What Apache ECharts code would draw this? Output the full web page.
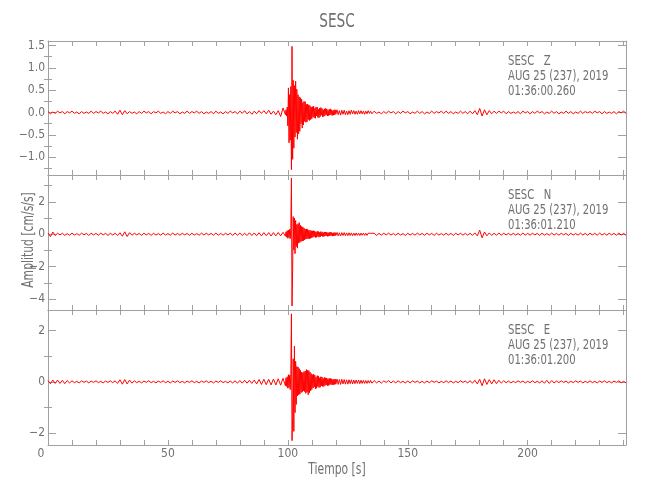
<!DOCTYPE html>
<html>
<head>
<meta charset="utf-8">
<script src="https://cdn.jsdelivr.net/npm/echarts@6/dist/echarts.min.js"></script>
<style>html,body{margin:0;padding:0;background:#fff}#c{width:650px;height:500px}</style>
</head>
<body>
<div id="c"></div>
<script>
// ---------------- data ----------------
const chartTitle = 'SESC';
const xName = 'Tiempo [s]';
const yName = 'Amplitud [cm/s/s]';
const channelLabels = ['SESC   Z', 'SESC   N', 'SESC   E'];
const dateLabel = 'AUG 25 (237), 2019';
const startLabels = ['01:36:00.260', '01:36:01.210', '01:36:01.200'];

// sample grid segments: [start s, step s, count]
const sampling = [[0, 1, 100], [99.25, 0.25, 84], [120.5, 0.5, 30], [136, 1, 106]];
const valueUnit = 0.01; // values below are in 0.01 cm/s/s

// Z component
const zPre = [2,-3,1,-2,3,-1,2,-3,2,-1, 3,-2,1,-3,2,-2,1,-2,3,-2, 2,-1,3,-2,1,-3,2,-2,3,-4,
  5,-5,4,-3,2,-2,1,-3,2,-2, 3,-1,2,-3,2,-1,3,-2,1,-3, 2,-2,3,-1,2,-3,1,-2,3,-2,
  2,-1,3,-2,2,-3,1,-2,2,-3, 3,-2,1,-3,2,-2,3,-1,2,-3, 3,-2,4,-3,2,-4,3,-3,4,-2,
  4,-3,5,-4,3,-5,4,-9,10,-5];
const zEvent = [6,-8,12,-30, 55,-68,40,-62, 58,-128,148,-105, 72,-80,60,-55, 70,-45,52,-60,
  40,-48,35,-42, 33,-25,30,-35, 22,-28,25,-20, 24,-22,18,-21, 19,-16,17,-18, 15,-16,12,-14,
  13,-10,14,-12, 9,-13,12,-8, 12,-11,7,-12, 10,-9,11,-6, 9,-10,6,-9,
  8,-7,9,-5, 8,-8,5,-7, 7,-6,8,-5, 6,-7,4,-6, 6,-5,6,-4];
const zCoda = [6,-5,4,-6,5,-4,5,-5,3,-5, 4,-4,5,-3,4,-4,3,-4,4,-3, 4,-3,3,-4,3,-3,4,-2,3,-3];
const zPost = [3,-2,1,-3,2,-2,3,-1,2,-3, 2,-2,3,-1,2,-3,1,-2,3,-2, 2,-3,1,-2,3,-2,2,-1,3,-2,
  3,-2,2,-3,1,-2,3,-2,2,-3, 3,-3,4,-5,9,-8,6,-5,4,-3, 3,-2,3,-1,3,-3,2,-2,1,-2,
  2,-3,3,-1,2,-3,2,-2,3,-1, 2,-3,1,-2,3,-2,2,-3,1,-2, 3,-2,2,-3,1,-2,3,-2,2,-1,
  2,-2,3,-1,2,-3,2,-2,1,-2, 2,-3,2,-1,3,-2];

// N component
const nPre = [8,-15,14,-8,6,-4,6,-7,4,-6, 7,-5,4,-6,7,-4,5,-7,6,-4, 5,-6,7,-4,5,-7,6,-5,6,-8,
  9,-12,15,-14,10,-6,6,-4,5,-7, 6,-4,5,-7,6,-5,4,-6,7,-5, 4,-6,7,-5,5,-6,6,-4,5,-7,
  6,-5,4,-6,7,-5,6,-4,5,-6, 7,-6,5,-6,6,-4,6,-7,7,-6, 7,-7,6,-8,9,-8,8,-9,9,-10,
  10,-9,10,-11,10,-10,11,-10,12,-12];
const nEvent = [15,-18,22,-25, 25,-20,30,-28, 40,346,-443,-220, 109,-97,100,-120, 85,-77,60,-86,
  65,-55,72,-50, 55,-45,48,-42, 45,-40,38,-35, 32,-30,33,-28, 30,-27,25,-28, 24,-25,22,-22,
  21,-18,22,-15, 19,-20,14,-19, 18,-13,17,-18, 12,-17,16,-11, 15,-14,10,-15,
  14,-11,14,-10, 13,-13,9,-12, 12,-10,12,-8, 11,-12,8,-11, 11,-9,10,-8];
const nCoda = [11,-10,9,-11,10,-8,10,-9,8,-9, 9,-8,8,-9,7,-8,8,-7,7,-8, 7,-6,7,-7,6,-7,6,-5,6,-6];
const nPost = [6,-7,5,-5,6,-4,7,-5,4,-6, 6,-5,4,-7,6,-5,5,-6,7,-4, 5,-6,6,-4,5,-7,6,-5,4,-6,
  6,-5,5,-7,6,-4,6,-6,5,-6, 6,-7,8,-10,25,-22,14,-10,8,-7, 6,-6,7,-5,6,-4,5,-6,6,-5,
  4,-6,7,-5,5,-6,6,-4,5,-7, 6,-5,4,-6,7,-5,5,-6,6,-4, 5,-7,6,-5,4,-6,7,-5,5,-6,
  6,-4,5,-6,7,-5,5,-6,6,-4, 5,-6,7,-5,5,-6];

// E component
const ePre = [5,-7,7,-6,7,-6,6,-7,5,-4, 4,-3,2,-4,4,-2,3,-4,3,-2, 4,-3,2,-4,3,-2,4,-3,4,-6,
  8,-9,9,-8,7,-5,4,-3,2,-4, 3,-2,4,-3,2,-4,3,-2,4,-3, 2,-4,3,-2,4,-3,2,-4,3,-2,
  4,-3,2,-4,3,-2,4,-3,2,-4, 3,-2,4,-3,2,-4,3,-4,4,-5, 5,-5,6,-5,6,-6,7,-8,9,-10,
  10,-11,10,-12,11,-12,12,-13,14,-15];
const eEvent = [16,-18,20,-25, 28,-22,26,-30, 35,265,-229,-140, 90,-193,139,-120, 80,-88,60,-55,
  58,-50,52,-48, 45,-42,38,-40, 36,-35,40,-38, 42,-45,48,-40, 45,-50,44,-42, 38,-35,32,-30,
  28,-24,30,-20, 26,-27,18,-25, 24,-18,23,-22, 16,-21,20,-15, 19,-18,13,-18,
  17,-14,16,-12, 15,-15,11,-14, 14,-11,13,-10, 12,-12,9,-11, 11,-10,11,-9];
const eCoda = [11,-10,9,-10,10,-8,9,-9,8,-9, 8,-7,8,-8,7,-7,7,-6,7,-7, 6,-6,6,-6,5,-6,5,-5,6,-5];
const ePost = [5,-4,3,-5,4,-2,5,-4,3,-4, 4,-3,2,-4,3,-4,4,-2,3,-4, 2,-4,3,-3,4,-2,3,-4,2,-3,
  4,-3,3,-4,2,-3,4,-2,3,-4, 4,-5,6,-8,10,-15,12,-10,9,-8, 8,-7,6,-5,4,-3,3,-4,2,-3,
  4,-2,3,-4,2,-3,4,-3,2,-4, 4,-5,6,-6,5,-4,3,-3,4,-2, 3,-4,2,-3,4,-2,3,-4,2,-3,
  4,-3,2,-4,3,-2,4,-3,2,-4, 3,-2,4,-3,2,-4];

// axis extents and ticks per panel
const xRange = [0, 241];
const yRanges = [[-1.4, 1.6], [-4.68, 3.66], [-2.46, 2.8]];
const yMajor = [[-1, -0.5, 0, 0.5, 1, 1.5], [-4, -2, 0, 2], [-2, 0, 2]];
const yMinor = [[-1.25, -0.75, -0.25, 0.25, 0.75, 1.25], [-3, -1, 1, 3], [-1, 1]];
const yDecimals = [1, 0, 0];

// ---------------- build ----------------
const times = [];
sampling.forEach(([s, d, n]) => { for (let i = 0; i < n; i++) times.push(s + i * d); });
const traces = [zPre.concat(zEvent, zCoda, zPost), nPre.concat(nEvent, nCoda, nPost), ePre.concat(eEvent, eCoda, ePost)];

const FONT = "'Liberation Sans Narrow', 'DejaVu Sans Condensed', 'DejaVu Sans', sans-serif";
const AXC = '#a0a0a0';
const TXC = '#707070';
const panels = [{top: 41, height: 134}, {top: 175, height: 135}, {top: 310, height: 135}];
const NARROW = 0.8;

const grid = [], xAxis = [], yAxis = [], series = [], graphic = [];
panels.forEach((p, k) => {
  grid.push({left: 48, right: 24, top: p.top, height: p.height, containLabel: false});
  ['bottom', 'top'].forEach(pos => {
    xAxis.push({
      type: 'value', gridIndex: k, position: pos, min: xRange[0], max: xRange[1], interval: 10,
      axisLine: {show: true, onZero: false, lineStyle: {color: AXC, width: 1}},
      axisTick: {show: true, inside: true, length: 5, lineStyle: {color: AXC}},
      splitLine: {show: false},
      axisLabel: {
        show: pos === 'bottom' && k === 2, interval: 4, margin: 3, color: TXC, fontFamily: FONT, fontSize: 12,
        showMaxLabel: false,
        formatter: v => (v % 50 === 0 ? (v === 0 ? '{z|0}' : String(v)) : ''),
        rich: {z: {padding: [0, 14, 0, 0], color: TXC, fontFamily: FONT, fontSize: 12}}
      }
    });
  });
  const dec = yDecimals[k];
  ['left', 'right'].forEach(pos => {
    yAxis.push({
      type: 'value', gridIndex: k, position: pos, min: yRanges[k][0], max: yRanges[k][1],
      axisLine: {show: true, onZero: false, lineStyle: {color: AXC, width: 1}},
      axisTick: {show: true, inside: true, length: 8, customValues: yMajor[k], lineStyle: {color: AXC}},
      splitLine: {show: false},
      axisLabel: {
        show: pos === 'left', customValues: yMajor[k], margin: 3, color: TXC, fontFamily: FONT, fontSize: 12,
        formatter: v => (v < 0 ? '\u2212' : '') + Math.abs(v).toFixed(dec)
      }
    });
    yAxis.push({
      type: 'value', gridIndex: k, position: pos, min: yRanges[k][0], max: yRanges[k][1],
      axisLine: {show: false},
      axisTick: {show: true, inside: true, length: 4, customValues: yMinor[k], lineStyle: {color: AXC}},
      splitLine: {show: false},
      axisLabel: {show: false}
    });
  });
  const vals = traces[k];
  const n = Math.min(vals.length, times.length);
  const data = [];
  for (let i = 0; i < n; i++) data.push([times[i], vals[i] * valueUnit]);
  series.push({
    type: 'line', xAxisIndex: k * 2, yAxisIndex: k * 4, data: data, showSymbol: false, symbol: 'none',
    lineStyle: {color: '#ff0000', width: 1}, animation: false, z: 1, clip: true
  });
  const tx = 508, ty = p.top + 20;
  [channelLabels[k], dateLabel, startLabels[k]].forEach((t, j) => {
    graphic.push({type: 'text', x: tx, y: ty + j * 15, scaleX: NARROW,
      style: {text: t, fill: TXC, font: '14px ' + FONT, textAlign: 'left', textVerticalAlign: 'middle'}});
  });
});
graphic.push({type: 'text', x: 337, y: 22, scaleX: NARROW, style: {text: chartTitle, fill: TXC, font: '19px ' + FONT, textAlign: 'center', textVerticalAlign: 'middle'}});
graphic.push({type: 'text', x: 337, y: 470, scaleX: NARROW, style: {text: xName, fill: TXC, font: '15px ' + FONT, textAlign: 'center', textVerticalAlign: 'middle'}});
graphic.push({type: 'text', x: 29, y: 240, rotation: Math.PI / 2, scaleX: NARROW, style: {text: yName, fill: TXC, font: '15px ' + FONT, textAlign: 'center', textVerticalAlign: 'middle'}});

const chart = echarts.init(document.getElementById('c'), null, {renderer: 'canvas'});
chart.setOption({animation: false, backgroundColor: '#fff', grid, xAxis, yAxis, series, graphic});
</script>
</body>
</html>
